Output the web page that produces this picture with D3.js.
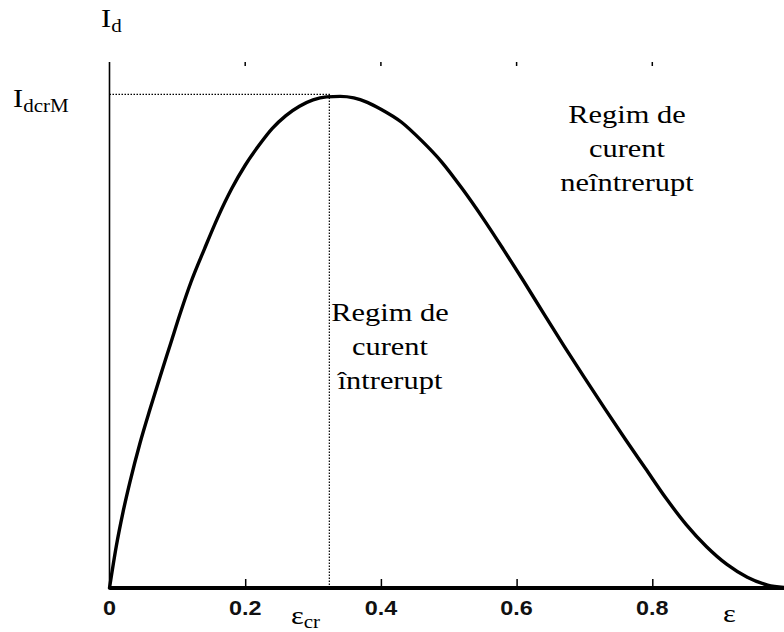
<!DOCTYPE html>
<html>
<head>
<meta charset="utf-8">
<script src="https://cdn.jsdelivr.net/npm/d3@7"></script>
<style>
  html, body { margin: 0; padding: 0; background: #fff; }
  svg { display: block; }
  .serif { font-family: "Liberation Serif", "Times New Roman", serif; fill: #000; }
  .tick-label { font-family: "Liberation Sans", Arial, sans-serif; font-weight: bold; fill: #111; }
</style>
</head>
<body>
<svg id="chart" width="784" height="632"></svg>
<script>
// Duty cycle ε and the relative critical current Id / IdcrM
const eps = [0, 0.01, 0.02, 0.03, 0.045, 0.06, 0.075, 0.09, 0.105, 0.12,
             0.14, 0.16, 0.18, 0.2, 0.22, 0.24, 0.26, 0.28, 0.30, 0.32,
             0.34, 0.36, 0.38, 0.40, 0.43, 0.46, 0.49, 0.52, 0.55, 0.58,
             0.61, 0.64, 0.67, 0.70, 0.73, 0.76, 0.79, 0.82, 0.85, 0.88,
             0.91, 0.94, 0.97, 0.995];
const idRel = [0, 0.085, 0.155, 0.215, 0.295, 0.365, 0.432, 0.497, 0.562, 0.622,
               0.69, 0.755, 0.812, 0.86, 0.90, 0.935, 0.961, 0.980, 0.993, 0.999,
               1.0, 0.997, 0.988, 0.974, 0.948, 0.910, 0.866, 0.812, 0.753, 0.690,
               0.625, 0.558, 0.492, 0.428, 0.365, 0.303, 0.243, 0.183, 0.129, 0.084,
               0.048, 0.022, 0.006, 0.001];
const xTicks = [0, 0.2, 0.4, 0.6, 0.8];
const epsCr = 0.324;     // ε at the maximum of the boundary curve
const idMax = 1.0;       // IdcrM

const svg = d3.select("#chart");
const x = d3.scaleLinear().domain([0, 1]).range([109.5, 788]);
const y = d3.scaleLinear().domain([0, 1.07]).range([588, 62]);
const stretch = 1.17;

// top tick marks (no frame line)
svg.append("g").selectAll("line").data(xTicks.filter(d => d > 0)).join("line")
  .attr("x1", d => x(d)).attr("x2", d => x(d))
  .attr("y1", y(1.07)).attr("y2", y(1.07) + 4)
  .attr("stroke", "#000").attr("stroke-width", 1.5);

// left axis line
svg.append("line")
  .attr("x1", x(0)).attr("x2", x(0)).attr("y1", y(1.07)).attr("y2", y(0))
  .attr("stroke", "#000").attr("stroke-width", 1.6);

// bottom axis with inward ticks
const xAxis = d3.axisBottom(x).tickValues(xTicks).tickSize(-9).tickFormat("");
const gx = svg.append("g").attr("transform", `translate(0,${y(0)})`).call(xAxis);
gx.select(".domain").remove();
gx.selectAll(".tick line").attr("stroke", "#000").attr("stroke-width", 1.5);
svg.append("line")
  .attr("x1", x(0)).attr("x2", 784).attr("y1", y(0)).attr("y2", y(0))
  .attr("stroke", "#000").attr("stroke-width", 4);

// tick labels
svg.append("g").selectAll("text").data(xTicks).join("text")
  .attr("class", "tick-label")
  .attr("transform", d => `translate(${x(d)},615) scale(${stretch},1)`)
  .attr("text-anchor", "middle")
  .attr("font-size", 20)
  .text(d => d === 0 ? "0" : d3.format(".1f")(d));

// dotted guides to the maximum
svg.append("line")
  .attr("x1", x(0)).attr("x2", x(epsCr) + 1).attr("y1", y(idMax) - 2).attr("y2", y(idMax) - 2)
  .attr("stroke", "#000").attr("stroke-width", 1.2).attr("stroke-dasharray", "1.5,1.5");
svg.append("line")
  .attr("x1", x(epsCr)).attr("x2", x(epsCr)).attr("y1", y(idMax) - 2).attr("y2", y(0))
  .attr("stroke", "#000").attr("stroke-width", 1.2).attr("stroke-dasharray", "1.5,1.5");

// boundary curve
const line = d3.line().x((d, i) => x(eps[i])).y(d => y(d)).curve(d3.curveMonotoneX);
svg.append("path")
  .attr("d", line(idRel))
  .attr("fill", "none").attr("stroke", "#000").attr("stroke-width", 3.4)
  .attr("stroke-linejoin", "round").attr("stroke-linecap", "round");

// text helper: main text with optional subscript
function label(px, py, main, sub, size, subSize, subDy, anchor) {
  const t = svg.append("text").attr("class", "serif")
    .attr("transform", `translate(${px},${py}) scale(${stretch},1)`)
    .attr("font-size", size)
    .attr("text-anchor", anchor || "start");
  t.append("tspan").text(main);
  if (sub) t.append("tspan").attr("font-size", subSize).attr("dy", subDy).text(sub);
  return t;
}

label(101, 27, "I", "d", 26, 18, 5);
label(13, 107, "I", "dcrM", 26, 18, 5);
label(291, 624, "ε", "cr", 26, 18, 4);
label(723, 622, "ε", null, 26);

// region annotations
function block(cx, baseY, lines) {
  lines.forEach((s, i) => {
    svg.append("text").attr("class", "serif")
      .attr("transform", `translate(${cx},${baseY + i * 34}) scale(${stretch},1)`)
      .attr("font-size", 26).attr("text-anchor", "middle").text(s);
  });
}
block(390, 321, ["Regim de", "curent", "întrerupt"]);
block(627, 123, ["Regim de", "curent", "neîntrerupt"]);
</script>
</body>
</html>
